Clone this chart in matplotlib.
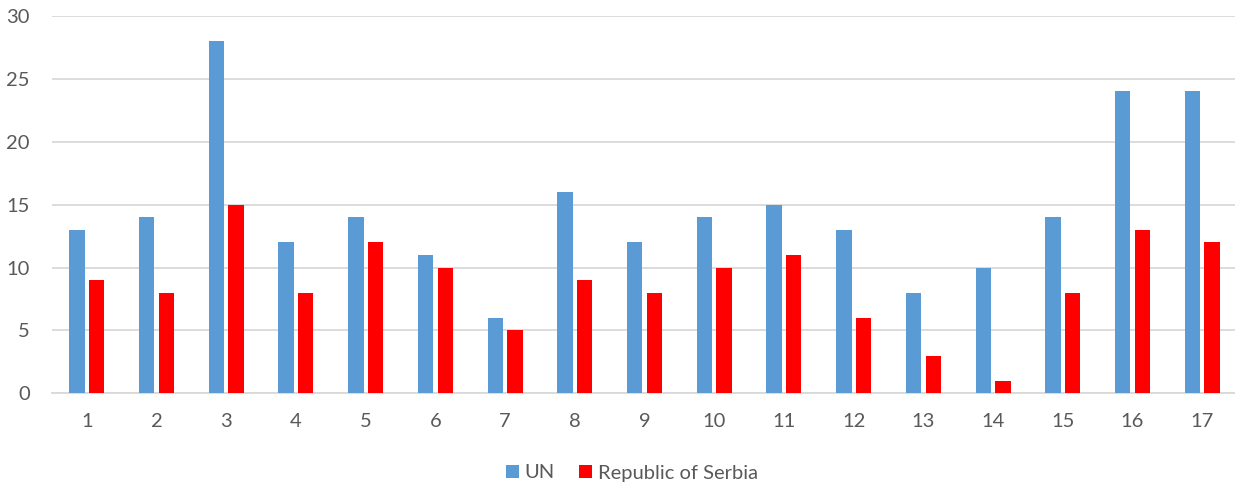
import matplotlib
matplotlib.use("Agg")
import matplotlib.pyplot as plt
import numpy as np

categories = [str(i) for i in range(1, 18)]
un_values = [13, 14, 28, 12, 14, 11, 6, 16, 12, 14, 15, 13, 8, 10, 14, 24, 24]
serbia_values = [9, 8, 15, 8, 12, 10, 5, 9, 8, 10, 11, 6, 3, 1, 8, 13, 12]
series_names = ["UN", "Republic of Serbia"]
y_ticks = [0, 5, 10, 15, 20, 25, 30]

plt.rcParams['font.family'] = ['Lato', 'DejaVu Sans']

fig = plt.figure(figsize=(12.35, 4.88), dpi=100)
ax = fig.add_axes([52/1235, 1 - 393.3/488, (1235 - 52)/1235, (393.3 - 16)/488])

x = np.arange(len(categories))
w = 0.22
off = 0.141
ax.bar(x - off, un_values, width=w, color="#5b9bd5", label=series_names[0], zorder=3)
ax.bar(x + off, serbia_values, width=w, color="#ff0000", label=series_names[1], zorder=3)

ax.set_xlim(-0.5, 16.47)
ax.set_ylim(0, 30)
ax.set_yticks(y_ticks)
ax.set_xticks(x)
ax.set_xticklabels(categories)
ax.yaxis.grid(True, color="#d9d9d9", linewidth=1.3, zorder=0)
ax.set_axisbelow(True)
for s in ["top", "right", "left"]:
    ax.spines[s].set_visible(False)
ax.spines["bottom"].set_color("#d9d9d9")
ax.spines["bottom"].set_linewidth(1.3)
ax.tick_params(axis="both", length=0, labelsize=14.5, labelcolor="#595959")
ax.tick_params(axis="x", pad=14)
ax.tick_params(axis="y", pad=16)

leg = fig.legend(loc="center", bbox_to_anchor=(632/1235, 1 - 473/488), ncol=2, frameon=False,
                 fontsize=14.5, handlelength=0.65, handleheight=0.65, handletextpad=0.3,
                 columnspacing=1.2)
for t in leg.get_texts():
    t.set_color("#595959")

fig.savefig("out.png", dpi=100)
